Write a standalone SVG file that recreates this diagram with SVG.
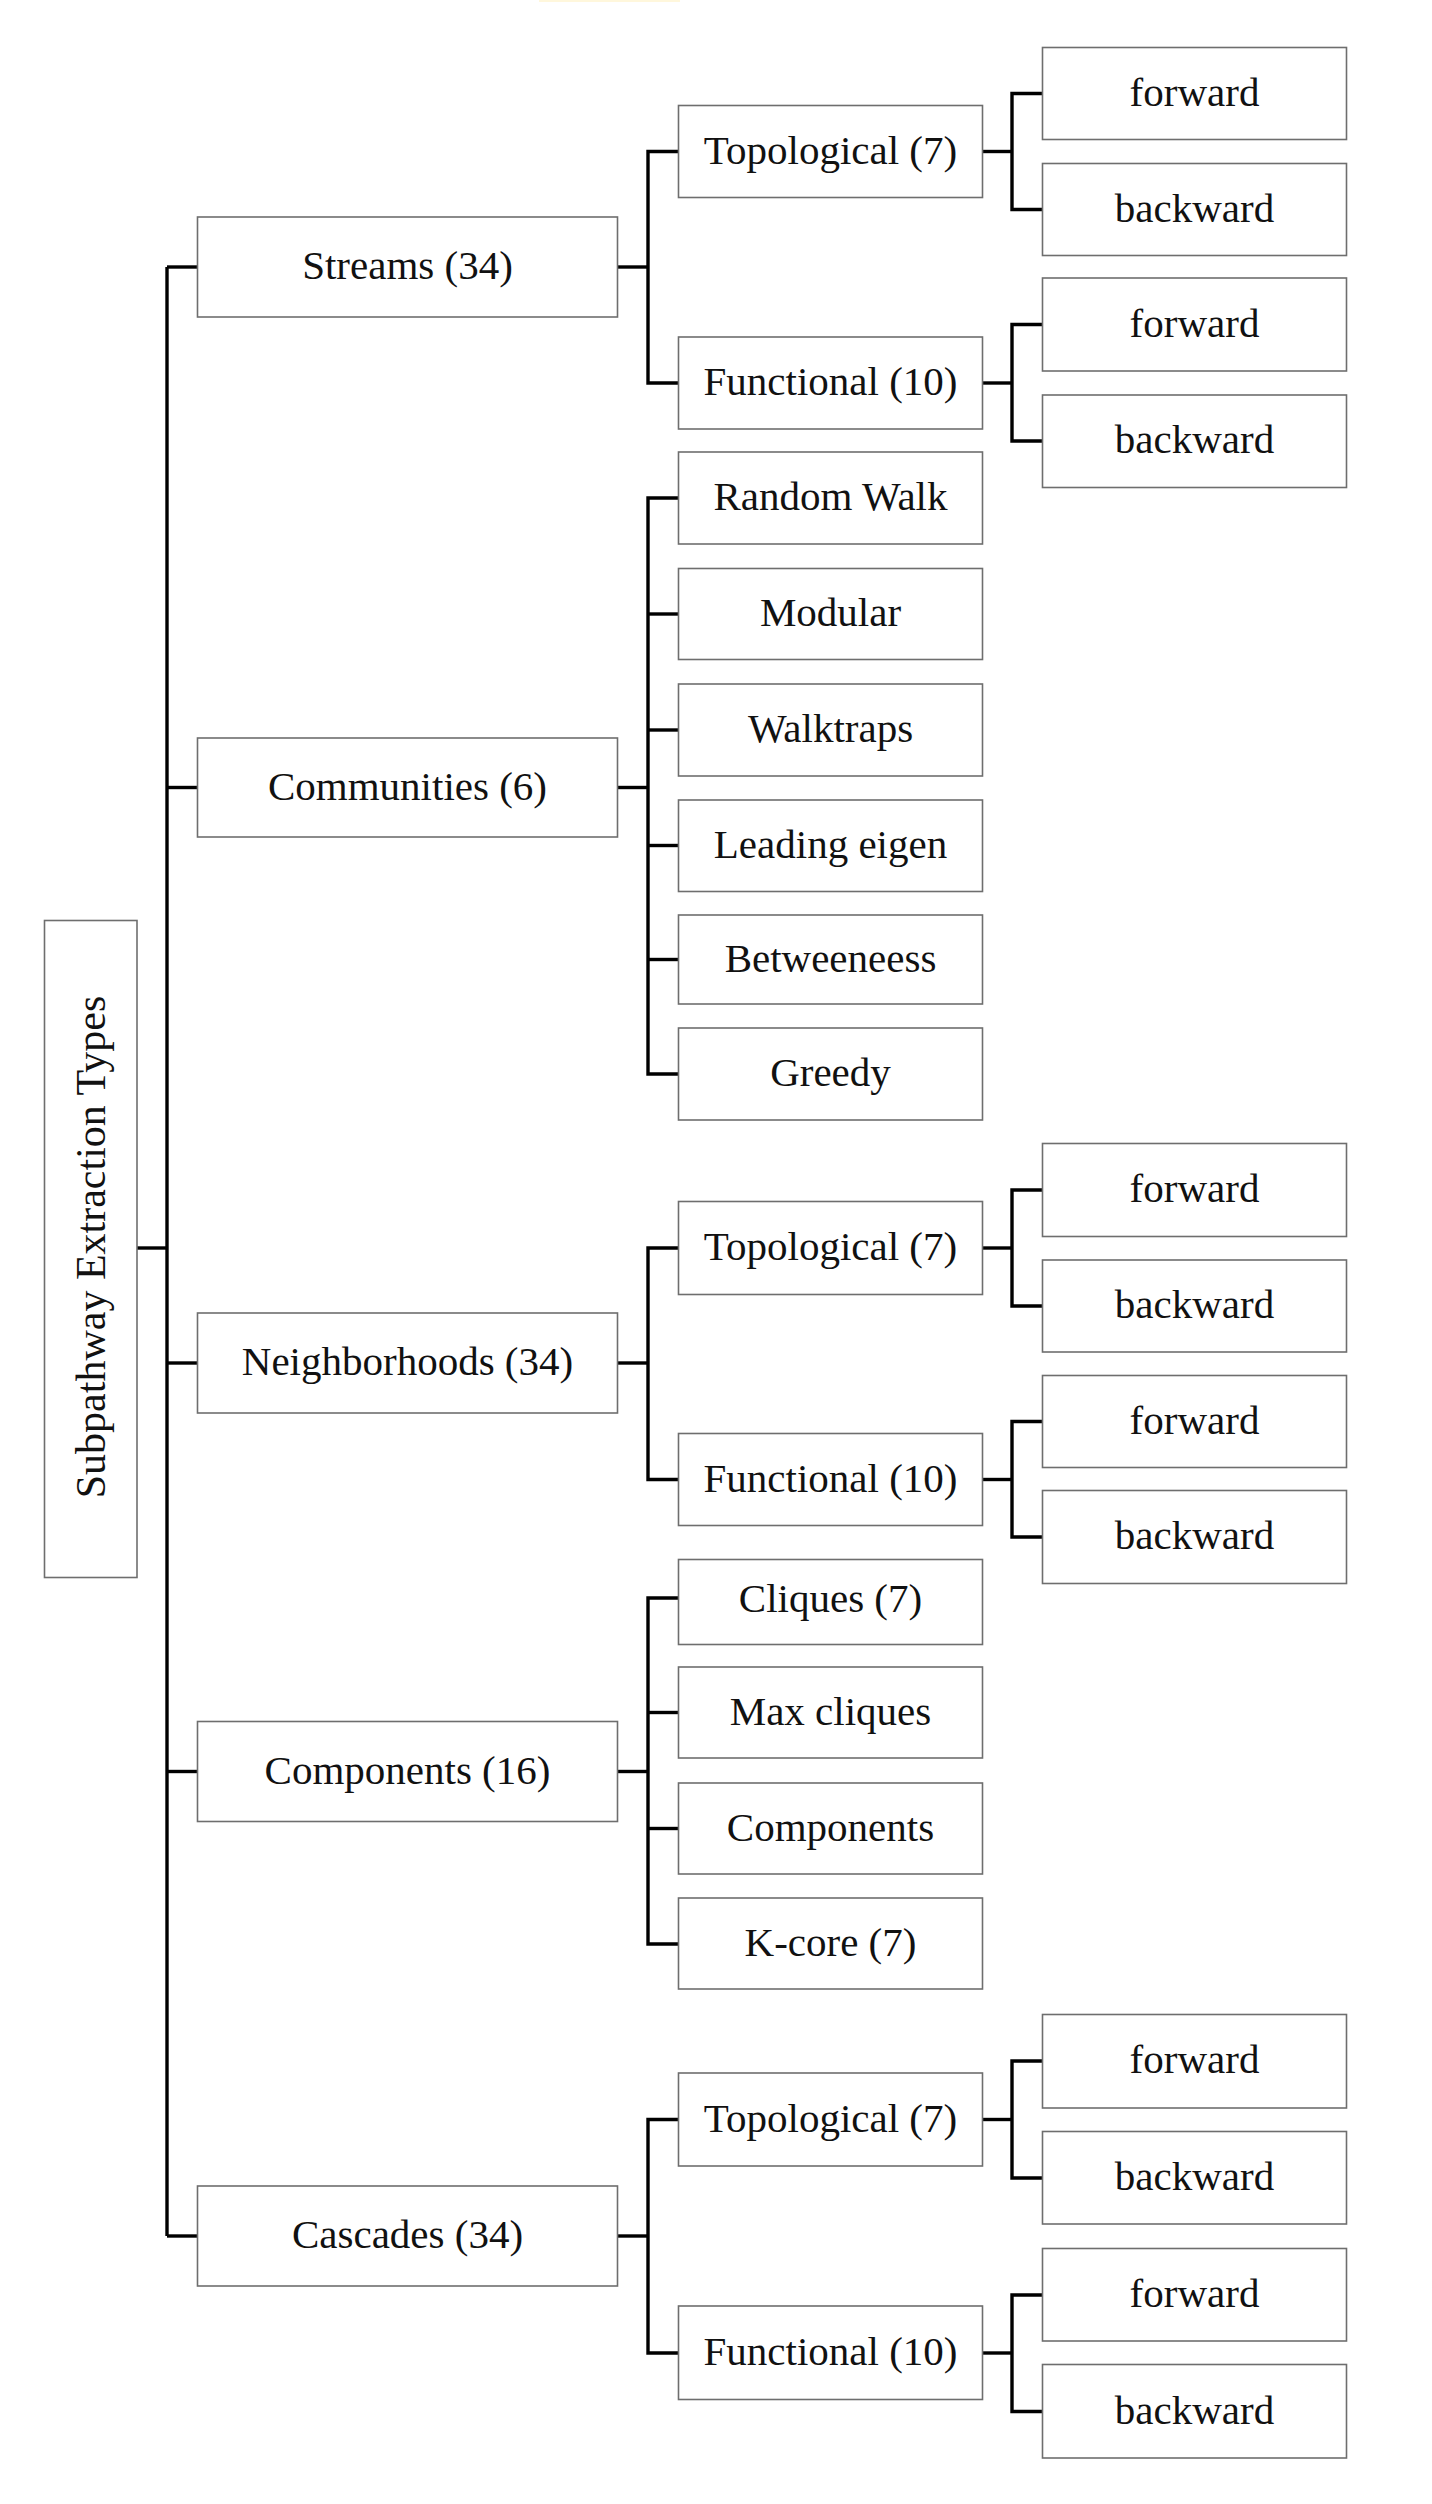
<svg xmlns="http://www.w3.org/2000/svg" width="1432" height="2504" viewBox="0 0 1432 2504">
<style>
.box{fill:#fff;stroke:#6e6e6e;stroke-width:1.6}
.lbl{font-family:"Liberation Serif","Times New Roman",serif;font-size:41px;text-anchor:middle;fill:#111}
.root{font-size:42px}
#connectors path{fill:none;stroke:#000;stroke-width:3.4;stroke-linejoin:miter}
</style>
<rect x="0" y="0" width="1432" height="2504" fill="#fff"/>
<rect x="539" y="0" width="141" height="2" fill="#fff7dc"/>
<g id="connectors">
<path d="M137,1248 H167"/>
<path d="M167,267 V2236"/>
<path d="M167,267 H197.5"/>
<path d="M167,787.5 H197.5"/>
<path d="M167,1363 H197.5"/>
<path d="M167,1771.5 H197.5"/>
<path d="M167,2236 H197.5"/>
<!-- Streams -->
<path d="M617.5,267 H648"/>
<path d="M678.5,151.5 H648 V383 H678.5"/>
<path d="M982.5,151.5 H1012"/>
<path d="M1042.5,93.5 H1012 V209.5 H1042.5"/>
<path d="M982.5,383 H1012"/>
<path d="M1042.5,324.5 H1012 V441 H1042.5"/>
<!-- Communities -->
<path d="M617.5,787.5 H648"/>
<path d="M678.5,498 H648 V1074 H678.5"/>
<path d="M648,614 H678.5"/>
<path d="M648,730 H678.5"/>
<path d="M648,845.5 H678.5"/>
<path d="M648,959.5 H678.5"/>
<!-- Neighborhoods -->
<path d="M617.5,1363 H648"/>
<path d="M678.5,1248 H648 V1479.5 H678.5"/>
<path d="M982.5,1248 H1012"/>
<path d="M1042.5,1190 H1012 V1306 H1042.5"/>
<path d="M982.5,1479.5 H1012"/>
<path d="M1042.5,1421.5 H1012 V1537 H1042.5"/>
<!-- Components -->
<path d="M617.5,1771.5 H648"/>
<path d="M678.5,1598 H648 V1944 H678.5"/>
<path d="M648,1712.5 H678.5"/>
<path d="M648,1828.5 H678.5"/>
<!-- Cascades -->
<path d="M617.5,2236 H648"/>
<path d="M678.5,2119.5 H648 V2353 H678.5"/>
<path d="M982.5,2119.5 H1012"/>
<path d="M1042.5,2061 H1012 V2178 H1042.5"/>
<path d="M982.5,2353 H1012"/>
<path d="M1042.5,2295 H1012 V2411.5 H1042.5"/>
</g>

<g id="root">
<rect class="box" x="44.5" y="920.5" width="92.5" height="657"/>
<text class="lbl root" transform="translate(105,1247) rotate(-90)">Subpathway Extraction Types</text>
</g>

<g id="streams"><rect class="box" x="197.5" y="217" width="420" height="100"/><text class="lbl" x="407.5" y="279">Streams (34)</text></g>
<g id="communities"><rect class="box" x="197.5" y="738" width="420" height="99"/><text class="lbl" x="407.5" y="799.5">Communities (6)</text></g>
<g id="neighborhoods"><rect class="box" x="197.5" y="1313" width="420" height="100"/><text class="lbl" x="407.5" y="1375">Neighborhoods (34)</text></g>
<g id="components"><rect class="box" x="197.5" y="1721.5" width="420" height="100"/><text class="lbl" x="407.5" y="1783.5">Components (16)</text></g>
<g id="cascades"><rect class="box" x="197.5" y="2186" width="420" height="100"/><text class="lbl" x="407.5" y="2248">Cascades (34)</text></g>

<!-- Streams children -->
<g id="streams-topological"><rect class="box" x="678.5" y="105.5" width="304" height="92"/><text class="lbl" x="830.5" y="163.5">Topological (7)</text></g>
<g id="streams-functional"><rect class="box" x="678.5" y="337" width="304" height="92"/><text class="lbl" x="830.5" y="395">Functional (10)</text></g>
<g id="streams-topo-forward"><rect class="box" x="1042.5" y="47.5" width="304" height="92"/><text class="lbl" x="1194.5" y="105.5">forward</text></g>
<g id="streams-topo-backward"><rect class="box" x="1042.5" y="163.5" width="304" height="92"/><text class="lbl" x="1194.5" y="221.5">backward</text></g>
<g id="streams-func-forward"><rect class="box" x="1042.5" y="278" width="304" height="93"/><text class="lbl" x="1194.5" y="336.5">forward</text></g>
<g id="streams-func-backward"><rect class="box" x="1042.5" y="395" width="304" height="92.5"/><text class="lbl" x="1194.5" y="453">backward</text></g>

<!-- Communities children -->
<g id="random-walk"><rect class="box" x="678.5" y="452" width="304" height="92"/><text class="lbl" x="830.5" y="510">Random Walk</text></g>
<g id="modular"><rect class="box" x="678.5" y="568.5" width="304" height="91"/><text class="lbl" x="830.5" y="626">Modular</text></g>
<g id="walktraps"><rect class="box" x="678.5" y="684" width="304" height="92"/><text class="lbl" x="830.5" y="742">Walktraps</text></g>
<g id="leading-eigen"><rect class="box" x="678.5" y="800" width="304" height="91.5"/><text class="lbl" x="830.5" y="857.5">Leading eigen</text></g>
<g id="betweeneess"><rect class="box" x="678.5" y="915" width="304" height="89"/><text class="lbl" x="830.5" y="971.5">Betweeneess</text></g>
<g id="greedy"><rect class="box" x="678.5" y="1028" width="304" height="92"/><text class="lbl" x="830.5" y="1086">Greedy</text></g>

<!-- Neighborhoods children -->
<g id="neigh-topological"><rect class="box" x="678.5" y="1201.5" width="304" height="93"/><text class="lbl" x="830.5" y="1260">Topological (7)</text></g>
<g id="neigh-functional"><rect class="box" x="678.5" y="1433.5" width="304" height="92"/><text class="lbl" x="830.5" y="1491.5">Functional (10)</text></g>
<g id="neigh-topo-forward"><rect class="box" x="1042.5" y="1143.5" width="304" height="93"/><text class="lbl" x="1194.5" y="1202">forward</text></g>
<g id="neigh-topo-backward"><rect class="box" x="1042.5" y="1260" width="304" height="92"/><text class="lbl" x="1194.5" y="1318">backward</text></g>
<g id="neigh-func-forward"><rect class="box" x="1042.5" y="1375.5" width="304" height="92"/><text class="lbl" x="1194.5" y="1433.5">forward</text></g>
<g id="neigh-func-backward"><rect class="box" x="1042.5" y="1490.5" width="304" height="93"/><text class="lbl" x="1194.5" y="1549">backward</text></g>

<!-- Components children -->
<g id="cliques"><rect class="box" x="678.5" y="1559.5" width="304" height="85"/><text class="lbl" x="830.5" y="1612">Cliques (7)</text></g>
<g id="max-cliques"><rect class="box" x="678.5" y="1667" width="304" height="91"/><text class="lbl" x="830.5" y="1724.5">Max cliques</text></g>
<g id="components-leaf"><rect class="box" x="678.5" y="1783" width="304" height="91"/><text class="lbl" x="830.5" y="1840.5">Components</text></g>
<g id="k-core"><rect class="box" x="678.5" y="1898" width="304" height="91"/><text class="lbl" x="830.5" y="1955.5">K-core (7)</text></g>

<!-- Cascades children -->
<g id="casc-topological"><rect class="box" x="678.5" y="2073" width="304" height="93"/><text class="lbl" x="830.5" y="2131.5">Topological (7)</text></g>
<g id="casc-functional"><rect class="box" x="678.5" y="2306" width="304" height="93.5"/><text class="lbl" x="830.5" y="2365">Functional (10)</text></g>
<g id="casc-topo-forward"><rect class="box" x="1042.5" y="2014.5" width="304" height="93.5"/><text class="lbl" x="1194.5" y="2073">forward</text></g>
<g id="casc-topo-backward"><rect class="box" x="1042.5" y="2131.5" width="304" height="92.5"/><text class="lbl" x="1194.5" y="2189.5">backward</text></g>
<g id="casc-func-forward"><rect class="box" x="1042.5" y="2248.5" width="304" height="92.5"/><text class="lbl" x="1194.5" y="2307">forward</text></g>
<g id="casc-func-backward"><rect class="box" x="1042.5" y="2364.5" width="304" height="93.5"/><text class="lbl" x="1194.5" y="2423.5">backward</text></g>
</svg>
